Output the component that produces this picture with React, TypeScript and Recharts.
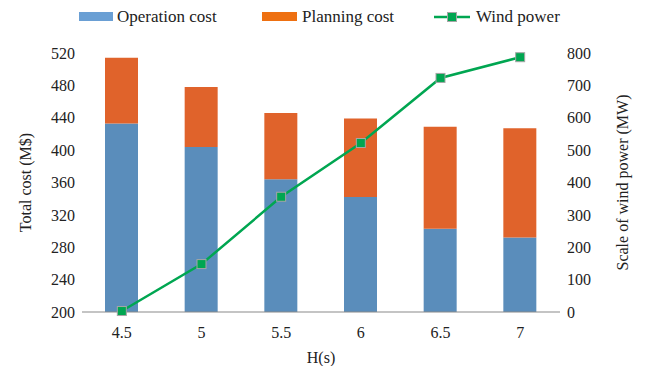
import React from "react";
import { ComposedChart, Bar, Line, XAxis, YAxis, Legend } from "recharts";

// H(s) categories on the x axis
const hValues = ["4.5", "5", "5.5", "6", "6.5", "7"];
// costs in M$
const operationCost = [433, 404, 364, 342, 303, 292];
const planningCost = [81, 74, 82, 97, 126, 135];
// installed wind power in MW
const windPower = [3, 148, 356, 522, 723, 787];

const costTicks = [200, 240, 280, 320, 360, 400, 440, 480, 520];
const windTicks = [0, 100, 200, 300, 400, 500, 600, 700, 800];

const data = hValues.map((h, i) => ({
  h,
  operation: operationCost[i],
  planning: planningCost[i],
  wind: windPower[i],
}));

const BLUE = "#5A8DBB";
const ORANGE = "#E0632B";
const GREEN = "#00A651";
const FONT = "'Liberation Serif', 'Times New Roman', serif";

const SquareDot = (props: any) => {
  const { cx, cy } = props;
  if (cx == null || cy == null) return null;
  return <rect x={cx - 4.5} y={cy - 4.5} width={9} height={9} fill={GREEN} stroke="#A6A6A6" strokeWidth={1} />;
};

const renderLegend = () => {
  const text: React.CSSProperties = { position: "absolute", top: 0, lineHeight: "18px", fontSize: 17, color: "#222" };
  return (
    <div style={{ position: "relative", height: 18, fontFamily: FONT }}>
      <div style={{ position: "absolute", left: 71, top: 4, width: 34, height: 9, background: "#6A9FD4" }} />
      <span style={{ ...text, left: 109 }}>Operation cost</span>
      <div style={{ position: "absolute", left: 254, top: 4, width: 35, height: 9, background: "#EE7011" }} />
      <span style={{ ...text, left: 294 }}>Planning cost</span>
      <svg style={{ position: "absolute", left: 426, top: 0 }} width={36} height={18}>
        <line x1={0} y1={9} x2={36} y2={9} stroke={GREEN} strokeWidth={2.5} />
        <rect x={13.5} y={4.5} width={9} height={9} fill={GREEN} stroke="#A6A6A6" strokeWidth={1} />
      </svg>
      <span style={{ ...text, left: 468 }}>Wind power</span>
    </div>
  );
};

const sideTitle = (value: string, dx: number) => (props: any) => {
  const { x, y, height } = props.viewBox;
  const cx = x + dx;
  const cy = y + height / 2;
  return (
    <text x={cx} y={cy} transform={`rotate(-90 ${cx} ${cy})`} textAnchor="middle" dominantBaseline="central"
      fontSize={16} fontFamily={FONT} fill="#222">
      {value}
    </text>
  );
};

const bottomTitle = (props: any) => {
  const { x, y, width } = props.viewBox;
  return (
    <text x={x + width / 2} y={y + 51} textAnchor="middle" fontSize={16} fontFamily={FONT} fill="#222">
      H(s)
    </text>
  );
};

const tickStyle = { fontSize: 16, fontFamily: FONT, fill: "#222" };

export default function App() {
  return (
    <ComposedChart width={630} height={358} data={data} margin={{ top: 27, right: 0, bottom: 0, left: 0 }} barSize={33}>
      <Legend verticalAlign="top" content={renderLegend} wrapperStyle={{ top: 0, left: 0, width: 630 }} />
      <XAxis dataKey="h" height={54} tick={tickStyle} tickLine={false} tickSize={0} tickMargin={15}
        axisLine={{ stroke: "#898989", strokeWidth: 1 }} label={bottomTitle} />
      <YAxis yAxisId="cost" width={74} domain={[200, 520]} ticks={costTicks} allowDataOverflow
        axisLine={false} tickLine={false} tickSize={0} tickMargin={7} tick={tickStyle}
        label={sideTitle("Total cost (M$)", 17)} />
      <YAxis yAxisId="wind" orientation="right" width={78} domain={[0, 800]} ticks={windTicks}
        axisLine={false} tickLine={false} tickSize={0} tickMargin={7} tick={tickStyle}
        label={sideTitle("Scale of wind power (MW)", 62)} />
      <Bar yAxisId="cost" dataKey="operation" stackId="cost" fill={BLUE} isAnimationActive={false} />
      <Bar yAxisId="cost" dataKey="planning" stackId="cost" fill={ORANGE} isAnimationActive={false} />
      <Line yAxisId="wind" type="linear" dataKey="wind" stroke={GREEN} strokeWidth={2.5}
        dot={<SquareDot />} activeDot={false} isAnimationActive={false} />
    </ComposedChart>
  );
}
